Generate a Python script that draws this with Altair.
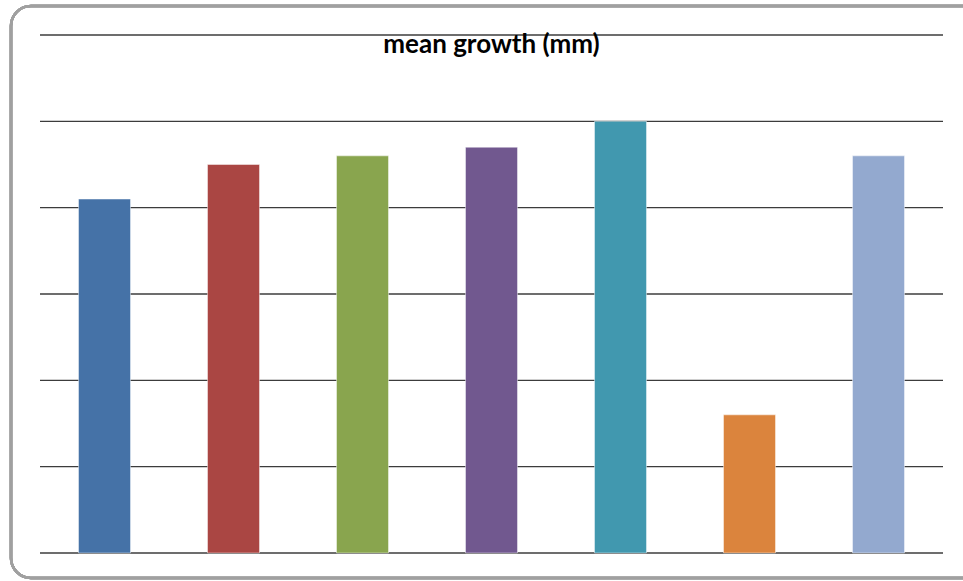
import altair as alt
import pandas as pd

# mean growth per treatment group
groups = ["1", "2", "3", "4", "5", "6", "7"]
growth = [4.1, 4.5, 4.6, 4.7, 5.0, 1.6, 4.6]
colors = ["#4572A7", "#AA4643", "#89A54E", "#71588F", "#4198AF", "#DB843D", "#93A9CF"]
grid_levels = [0, 1, 2, 3, 4, 5, 6]

df = pd.DataFrame({"group": groups, "growth": growth})
grid_df = pd.DataFrame({"level": grid_levels})

W, H = 903, 518
y_scale = alt.Scale(domain=[0, 6], nice=False)

# horizontal gridlines
grid = alt.Chart(grid_df).mark_rule(color="#3c3c3c", strokeWidth=1.4).encode(
    y=alt.Y("level:Q", scale=y_scale, axis=None),
)

bars = alt.Chart(df).mark_bar(
    size=52, stroke="white", strokeOpacity=0.45, strokeWidth=1
).encode(
    x=alt.X("group:N", sort=groups, axis=None,
            scale=alt.Scale(paddingInner=0, paddingOuter=0)),
    y=alt.Y("growth:Q", scale=y_scale, axis=None),
    color=alt.Color("group:N", sort=groups,
                    scale=alt.Scale(domain=groups, range=colors), legend=None),
)

# rounded outer frame of the chart
frame = alt.Chart(df).mark_rect(
    fill=None, stroke="#a0a0a0", strokeWidth=2.5, cornerRadius=20
).encode(
    x=alt.value(-29), x2=alt.value(W + 40),
    y=alt.value(-29), y2=alt.value(H + 25),
)

chart = alt.layer(frame, grid, bars).properties(
    width=W,
    height=H,
    title=alt.TitleParams(
        "mean growth (mm)", font="Lato", fontSize=26, fontWeight="bold",
        color="#000000", anchor="middle", baseline="top", dy=57,
    ),
    autosize=alt.AutoSizeParams(type="none"),
    padding={"left": 40, "top": 35, "right": 20, "bottom": 28},
).configure(background="white").configure_view(stroke=None)

chart.save("out.html", embed_options={"renderer": "svg", "actions": False})
